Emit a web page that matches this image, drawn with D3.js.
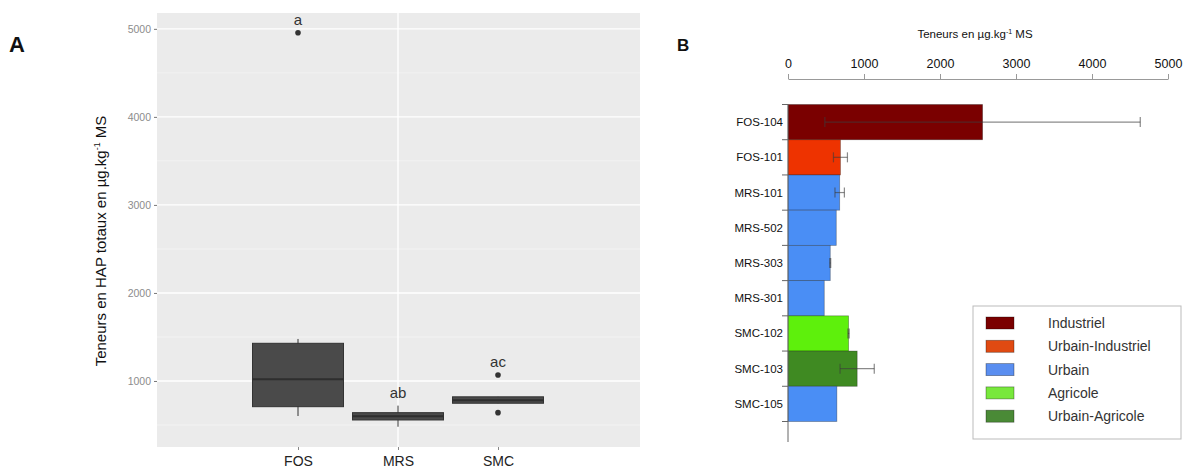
<!DOCTYPE html>
<html>
<head>
<meta charset="utf-8">
<script src="https://cdn.jsdelivr.net/npm/d3@7"></script>
<style>
  body { margin: 0; background: #fff; }
  text { font-family: "Liberation Sans", Arial, sans-serif; }
</style>
</head>
<body>
<script>
// ---- panel A data (boxplot by site) ----
var sites = ["FOS", "MRS", "SMC"];
var boxQ1 = [708, 557, 747];
var boxMedian = [1019, 600, 780];
var boxQ3 = [1428, 640, 820];
var whiskLow = [602, 480, 747];
var whiskHigh = [1477, 720, 820];
var outliers = [[4955], [], [1068, 640]];
var letters = ["a", "ab", "ac"];
var yTicksA = [1000, 2000, 3000, 4000, 5000];

// ---- panel B data (bars by station) ----
var stations = ["FOS-104", "FOS-101", "MRS-101", "MRS-502", "MRS-303", "MRS-301", "SMC-102", "SMC-103", "SMC-105"];
var means = [2560, 690, 680, 635, 556, 477, 797, 910, 643];
var sds = [2075, 92, 62, 0, 6, 0, 8, 225, 0];
var landUse = ["Industriel", "Urbain-Industriel", "Urbain", "Urbain", "Urbain", "Urbain", "Agricole", "Urbain-Agricole", "Urbain"];
var classes = ["Industriel", "Urbain-Industriel", "Urbain", "Agricole", "Urbain-Agricole"];
var classColors = ["#7a0000", "#ee3300", "#4a8ef5", "#5ef00c", "#3f8a22"];
var legendColors = ["#7a0000", "#e04a12", "#5a8ef0", "#78e83c", "#4a8a36"];
var xTicksB = [0, 1000, 2000, 3000, 4000, 5000];

var W = 1185, H = 473;
var svg = d3.select("body").append("svg")
            .attr("width", W)
            .attr("height", H);

// ================= PANEL A =================
var pA = {left: 157, right: 640, top: 13, bottom: 447};

var yA = d3.scaleLinear()
           .domain([250, 5180])
           .range([pA.bottom, pA.top]);

// categories sit at 298, 398, 498
var xA = d3.scalePoint()
           .domain(sites)
           .range([298, 498]);

svg.append("rect")
   .attr("x", pA.left).attr("y", pA.top)
   .attr("width", pA.right - pA.left)
   .attr("height", pA.bottom - pA.top)
   .attr("fill", "#ebebeb");

// minor grid
var minorA = [500, 1500, 2500, 3500, 4500];
svg.selectAll(".minorA")
   .data(minorA).enter().append("line")
   .attr("x1", pA.left).attr("x2", pA.right)
   .attr("y1", function(d) { return yA(d); })
   .attr("y2", function(d) { return yA(d); })
   .attr("stroke", "#f5f5f5").attr("stroke-width", 0.8);

// major grid
svg.selectAll(".majorA")
   .data(yTicksA).enter().append("line")
   .attr("x1", pA.left).attr("x2", pA.right)
   .attr("y1", function(d) { return yA(d); })
   .attr("y2", function(d) { return yA(d); })
   .attr("stroke", "#fff").attr("stroke-width", 1.4);

// only the middle vertical grid line shows in the original
svg.append("line")
   .attr("x1", xA("MRS")).attr("x2", xA("MRS"))
   .attr("y1", pA.top).attr("y2", pA.bottom)
   .attr("stroke", "#fff").attr("stroke-width", 1.4);

// y axis A
var yAxisA = svg.append("g")
   .attr("transform", "translate(" + pA.left + ",0)")
   .call(d3.axisLeft(yA).tickValues(yTicksA).tickFormat(d3.format("d")).tickSize(3).tickPadding(3));
yAxisA.select(".domain").remove();
yAxisA.selectAll("line").attr("stroke", "#777");
yAxisA.selectAll("text").attr("fill", "#8c8c8c").style("font-size", "10.5px");

// x axis A
var xAxisA = svg.append("g")
   .attr("transform", "translate(0," + pA.bottom + ")")
   .call(d3.axisBottom(xA).tickSize(3).tickPadding(6));
xAxisA.select(".domain").remove();
xAxisA.selectAll("line").attr("stroke", "#888");
xAxisA.selectAll("text").attr("fill", "#222").style("font-size", "14px");

// y title
svg.append("text")
   .attr("transform", "translate(106,241) rotate(-90)")
   .attr("text-anchor", "middle")
   .style("font-size", "15px")
   .attr("fill", "#111")
   .html('Teneurs en HAP totaux en µg.kg<tspan dy="-6" font-size="9px">-1</tspan><tspan dy="6"> MS</tspan>');

var boxW = 91;
var boxes = svg.selectAll(".box")
   .data(sites).enter().append("g");

boxes.append("line")
   .attr("x1", function(d) { return xA(d); })
   .attr("x2", function(d) { return xA(d); })
   .attr("y1", function(d, i) { return yA(whiskLow[i]); })
   .attr("y2", function(d, i) { return yA(whiskHigh[i]); })
   .attr("stroke", "#333").attr("stroke-width", 1);

boxes.append("rect")
   .attr("x", function(d) { return xA(d) - boxW / 2; })
   .attr("width", boxW)
   .attr("y", function(d, i) { return yA(boxQ3[i]); })
   .attr("height", function(d, i) { return Math.max(yA(boxQ1[i]) - yA(boxQ3[i]), 5); })
   .attr("fill", "#4a4a4a")
   .attr("stroke", "#333").attr("stroke-width", 1);

boxes.append("line")
   .attr("x1", function(d) { return xA(d) - boxW / 2; })
   .attr("x2", function(d) { return xA(d) + boxW / 2; })
   .attr("y1", function(d, i) { return yA(boxMedian[i]); })
   .attr("y2", function(d, i) { return yA(boxMedian[i]); })
   .attr("stroke", "#2e2e2e").attr("stroke-width", 2);

sites.forEach(function(s, i) {
    svg.selectAll(".out" + i)
       .data(outliers[i]).enter().append("circle")
       .attr("cx", xA(s))
       .attr("cy", function(d) { return yA(d); })
       .attr("r", 2.8)
       .attr("fill", "#333");
});

var letterTop = [4955, 720, 1068];
svg.selectAll(".letter")
   .data(sites).enter().append("text")
   .attr("x", function(d) { return xA(d); })
   .attr("y", function(d, i) { return yA(letterTop[i]) - 8; })
   .attr("text-anchor", "middle")
   .style("font-size", "15px")
   .attr("fill", "#333")
   .text(function(d, i) { return letters[i]; });

svg.append("text")
   .attr("x", 9).attr("y", 52)
   .style("font-size", "22px").style("font-weight", "bold")
   .attr("fill", "#111")
   .text("A");

// ================= PANEL B =================
var pB = {left: 788, top: 104.5, bottom: 421.5};

var xB = d3.scaleLinear()
           .domain([0, 5000])
           .range([pB.left, 1168]);

var yB = d3.scaleBand()
           .domain(stations)
           .range([pB.top, pB.bottom])
           .padding(0);

var colorB = d3.scaleOrdinal()
               .domain(classes)
               .range(classColors);

var xAxisB = svg.append("g")
   .attr("transform", "translate(0,79)")
   .call(d3.axisTop(xB).tickValues(xTicksB).tickFormat(d3.format("d")).tickSize(5).tickPadding(6).tickSizeOuter(0));
xAxisB.select(".domain").attr("stroke", "#999");
xAxisB.selectAll("line").attr("stroke", "#999");
xAxisB.selectAll("text").attr("fill", "#111").style("font-size", "12.5px");

svg.append("text")
   .attr("x", 975).attr("y", 38)
   .attr("text-anchor", "middle")
   .style("font-size", "11.5px")
   .attr("fill", "#111")
   .html('Teneurs en µg.kg<tspan dy="-4" font-size="7px">-1</tspan><tspan dy="4"> MS</tspan>');

svg.selectAll(".bar")
   .data(stations).enter().append("rect")
   .attr("x", xB(0))
   .attr("y", function(d) { return yB(d); })
   .attr("height", yB.bandwidth())
   .attr("width", function(d, i) { return xB(means[i]) - xB(0); })
   .attr("fill", function(d, i) { return colorB(landUse[i]); })
   .attr("stroke", "rgba(0,0,0,0.35)").attr("stroke-width", 0.8);

// error bars
var errs = svg.selectAll(".err")
   .data(stations).enter().append("g")
   .filter(function(d, i) { return sds[i] > 0; });

errs.append("line")
   .attr("x1", function(d) { var i = stations.indexOf(d); return xB(means[i] - sds[i]); })
   .attr("x2", function(d) { var i = stations.indexOf(d); return xB(means[i] + sds[i]); })
   .attr("y1", function(d) { return yB(d) + yB.bandwidth() / 2; })
   .attr("y2", function(d) { return yB(d) + yB.bandwidth() / 2; })
   .attr("stroke", "rgba(60,60,60,0.6)").attr("stroke-width", 1.2);

[-1, 1].forEach(function(sgn) {
    errs.append("line")
       .attr("x1", function(d) { var i = stations.indexOf(d); return xB(means[i] + sgn * sds[i]); })
       .attr("x2", function(d) { var i = stations.indexOf(d); return xB(means[i] + sgn * sds[i]); })
       .attr("y1", function(d) { return yB(d) + yB.bandwidth() / 2 - 5; })
       .attr("y2", function(d) { return yB(d) + yB.bandwidth() / 2 + 5; })
       .attr("stroke", "rgba(60,60,60,0.6)").attr("stroke-width", 1.2);
});

// y axis B (ticks at band boundaries)
svg.append("line")
   .attr("x1", pB.left).attr("x2", pB.left)
   .attr("y1", pB.top).attr("y2", 442)
   .attr("stroke", "#666");

var bounds = stations.map(function(d) { return yB(d); }).concat([pB.bottom]);
svg.selectAll(".bt")
   .data(bounds).enter().append("line")
   .attr("x1", pB.left - 6).attr("x2", pB.left)
   .attr("y1", function(d) { return d; })
   .attr("y2", function(d) { return d; })
   .attr("stroke", "#666");

svg.selectAll(".blabel")
   .data(stations).enter().append("text")
   .attr("x", pB.left - 5)
   .attr("y", function(d) { return yB(d) + yB.bandwidth() / 2; })
   .attr("dy", "0.35em")
   .attr("text-anchor", "end")
   .style("font-size", "11.5px")
   .attr("fill", "#111")
   .text(function(d) { return d; });

svg.append("text")
   .attr("x", 677).attr("y", 51)
   .style("font-size", "17px").style("font-weight", "bold")
   .attr("fill", "#111")
   .text("B");

// legend
var lg = svg.append("g").attr("transform", "translate(973,306)");
lg.append("rect")
  .attr("width", 208).attr("height", 133)
  .attr("fill", "#fff").attr("stroke", "#bbb");

var items = lg.selectAll(".li")
  .data(classes).enter().append("g")
  .attr("transform", function(d, i) { return "translate(0," + (17 + i * 23.3) + ")"; });

items.append("rect")
  .attr("x", 13).attr("y", -6)
  .attr("width", 28).attr("height", 12)
  .attr("fill", function(d, i) { return legendColors[i]; })
  .attr("stroke", "rgba(0,0,0,0.4)").attr("stroke-width", 0.8);

items.append("text")
  .attr("x", 75).attr("dy", "0.35em")
  .style("font-size", "14px")
  .attr("fill", "#333")
  .text(function(d) { return d; });
</script>
</body>
</html>
